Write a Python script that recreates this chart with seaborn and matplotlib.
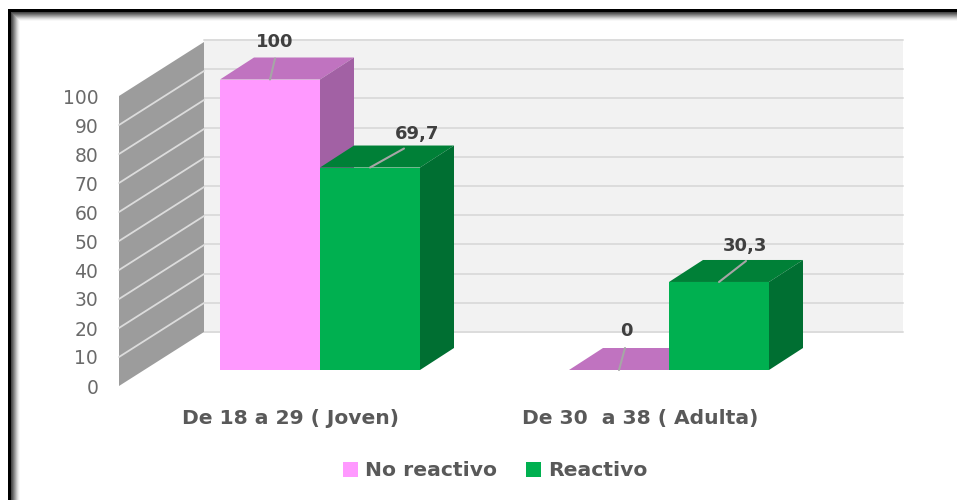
import numpy as np
import pandas as pd
import matplotlib
matplotlib.use("Agg")
import matplotlib.pyplot as plt
from matplotlib.patches import Polygon
import seaborn as sns

# Values per age group and response
age_groups = ["De 18 a 29 ( Joven)", "De 30  a 38 ( Adulta)"]
no_reactivo = [100, 0]
reactivo = [69.7, 30.3]
value_labels_no = ["100", "0"]
value_labels_re = ["69,7", "30,3"]
series_names = ["No reactivo", "Reactivo"]
axis_ticks = list(range(0, 101, 10))

W, H = 957, 500
PINK, GREEN = "#ff99ff", "#00b050"
FACES = {PINK: ("#c073c0", "#a261a4"), GREEN: ("#008037", "#006f32")}
TEXT = "#595959"

sns.set_theme(style="white")
plt.rcParams["font.family"] = ["DejaVu Sans"]


def px_axes(fig, left, right, top, bottom):
    """Add an axes whose edges are given in pixels from the top-left corner."""
    return fig.add_axes([left / W, 1 - bottom / H, (right - left) / W, (bottom - top) / H])


fig = plt.figure(figsize=(W / 100, H / 100), dpi=100, facecolor="white")

# Picture frame: dark line along the top and left, fading inwards
frame_ax = fig.add_axes([0, 0, 1, 1], zorder=0)
frame = np.ones((H, W))
fade = np.array([0, 0, 0, .28, .36, .46, .56, .66, .76, .85, .92, .97])
frame[9:9 + len(fade), 8:] = fade[:, None]
side = np.ones((H, W))
side[9:, 8:8 + len(fade)] = fade[None, :]
frame_ax.imshow(np.minimum(frame, side), cmap="gray", vmin=0, vmax=1, aspect="auto",
                extent=(0, W, H, 0), interpolation="bilinear")
frame_ax.axis("off")

# Back wall with its gridlines
back_ax = px_axes(fig, 204, 903, 40, 332)
back_ax.set_zorder(1)
back_ax.set_facecolor("#f2f2f2")
back_ax.set_xlim(0, 1)
back_ax.set_ylim(0, 100)
back_ax.set_yticks(axis_ticks)
back_ax.set_xticks([])
back_ax.set_yticklabels([])
back_ax.grid(axis="y", color="#dcdcdc", lw=1.4)
for gl in back_ax.get_ygridlines():
    gl.set_clip_on(False)
back_ax.tick_params(length=0)
sns.despine(ax=back_ax, left=True, bottom=True)

# Side wall carries the value axis
wall_ax = px_axes(fig, 119, 204, 96, 386)
wall_ax.set_zorder(2)
wall_ax.patch.set_alpha(0)
wall_ax.set_xlim(0, 85)
wall_ax.set_ylim(0, 100)
rise = 54 / 2.9
wall_ax.add_patch(Polygon([(0, 0), (85, rise), (85, 100 + rise), (0, 100)],
                          closed=True, fc="#9c9c9c", ec="none", clip_on=False))
for t in axis_ticks[1:-1]:
    wall_ax.plot([0, 85], [t, t + rise], color="#dcdcdc", lw=1.3, clip_on=False)
wall_ax.set_xticks([])
wall_ax.set_yticks(axis_ticks)
wall_ax.set_yticklabels([str(t) for t in axis_ticks], fontsize=13.5, color="#6a6a6a")
wall_ax.tick_params(axis="y", length=0, pad=15)
sns.despine(ax=wall_ax, left=True, bottom=True)

# Bars
df = pd.DataFrame({
    "grupo": age_groups * 2,
    "valor": no_reactivo + reactivo,
    "serie": [series_names[0]] * 2 + [series_names[1]] * 2,
})
ax = px_axes(fig, 145.5, 843.5, 79.5, 370)
ax.set_zorder(3)
ax.patch.set_alpha(0)
sns.barplot(data=df, x="grupo", y="valor", hue="serie", order=age_groups,
            hue_order=series_names, palette=[PINK, GREEN], width=200 / 349,
            gap=0, saturation=1, linewidth=0, ax=ax, legend=True)
ax.set_xlim(-0.5, 1.5)
ax.set_ylim(0, 100)
ax.set_yticks([])
ax.set_xlabel("")
ax.set_ylabel("")

# Category captions sit a little left of the bar pairs
UX = 1 / 349
UY = 100 / 290.5
ax.set_xticks([0 - 29 * UX, 1 - 29 * UX])
ax.set_xticklabels(age_groups, fontsize=14.6, fontweight="bold", color=TEXT)
ax.tick_params(axis="x", length=0, pad=28)
sns.despine(ax=ax, left=True, bottom=True)

# Depth of the bars, expressed in data units
DX, DY = 34 * UX, 22 * UY

# Leader end and label position for each mark, in pixels from the bar's front top centre
leader_ends = [[(5, -21), (6, -22)], [(34, -19), (27, -21)]]
label_shift = [[(5, -37), (7, -39)], [(47, -34), (26, -36)]]
labels = [value_labels_no, value_labels_re]

for s, (container, color) in enumerate(zip(ax.containers, (PINK, GREEN))):
    top_col, side_col = FACES[color]
    for g, bar in enumerate(container):
        x0, x1 = bar.get_x(), bar.get_x() + bar.get_width()
        v = bar.get_height()
        bar.set_zorder(3)
        ax.add_patch(Polygon([(x0, v), (x0 + DX, v + DY), (x1 + DX, v + DY), (x1, v)],
                             closed=True, fc=top_col, ec="none", clip_on=False, zorder=1.5 + s / 10))
        if v > 0:
            ax.add_patch(Polygon([(x1, 0), (x1 + DX, DY), (x1 + DX, v + DY), (x1, v)],
                                 closed=True, fc=side_col, ec="none", clip_on=False, zorder=1.5 + s / 10))
        xc = (x0 + x1) / 2
        ex, ey = leader_ends[s][g]
        ax.plot([xc, xc + ex * UX], [v, v - ey * UY], color="#a6a6a6", lw=1.5,
                clip_on=False, zorder=4)
        tx, ty = label_shift[s][g]
        ax.text(xc + tx * UX, v - ty * UY, labels[s][g], ha="center", va="center",
                fontsize=13, fontweight="bold", color="#404040", clip_on=False, zorder=5)

# Legend along the bottom
sns.move_legend(ax, "center", bbox_to_anchor=(495 / W, 1 - 471 / H), bbox_transform=fig.transFigure,
                ncol=2, frameon=False, title=None, handlelength=0.73, handleheight=0.73,
                handletextpad=0.34, columnspacing=1.42, fontsize=14.7)
leg = ax.get_legend()
for txt in leg.get_texts():
    txt.set_fontweight("bold")
    txt.set_color(TEXT)
for handle in leg.get_patches():
    handle.set_linewidth(0)

fig.savefig("out.png", dpi=100)
